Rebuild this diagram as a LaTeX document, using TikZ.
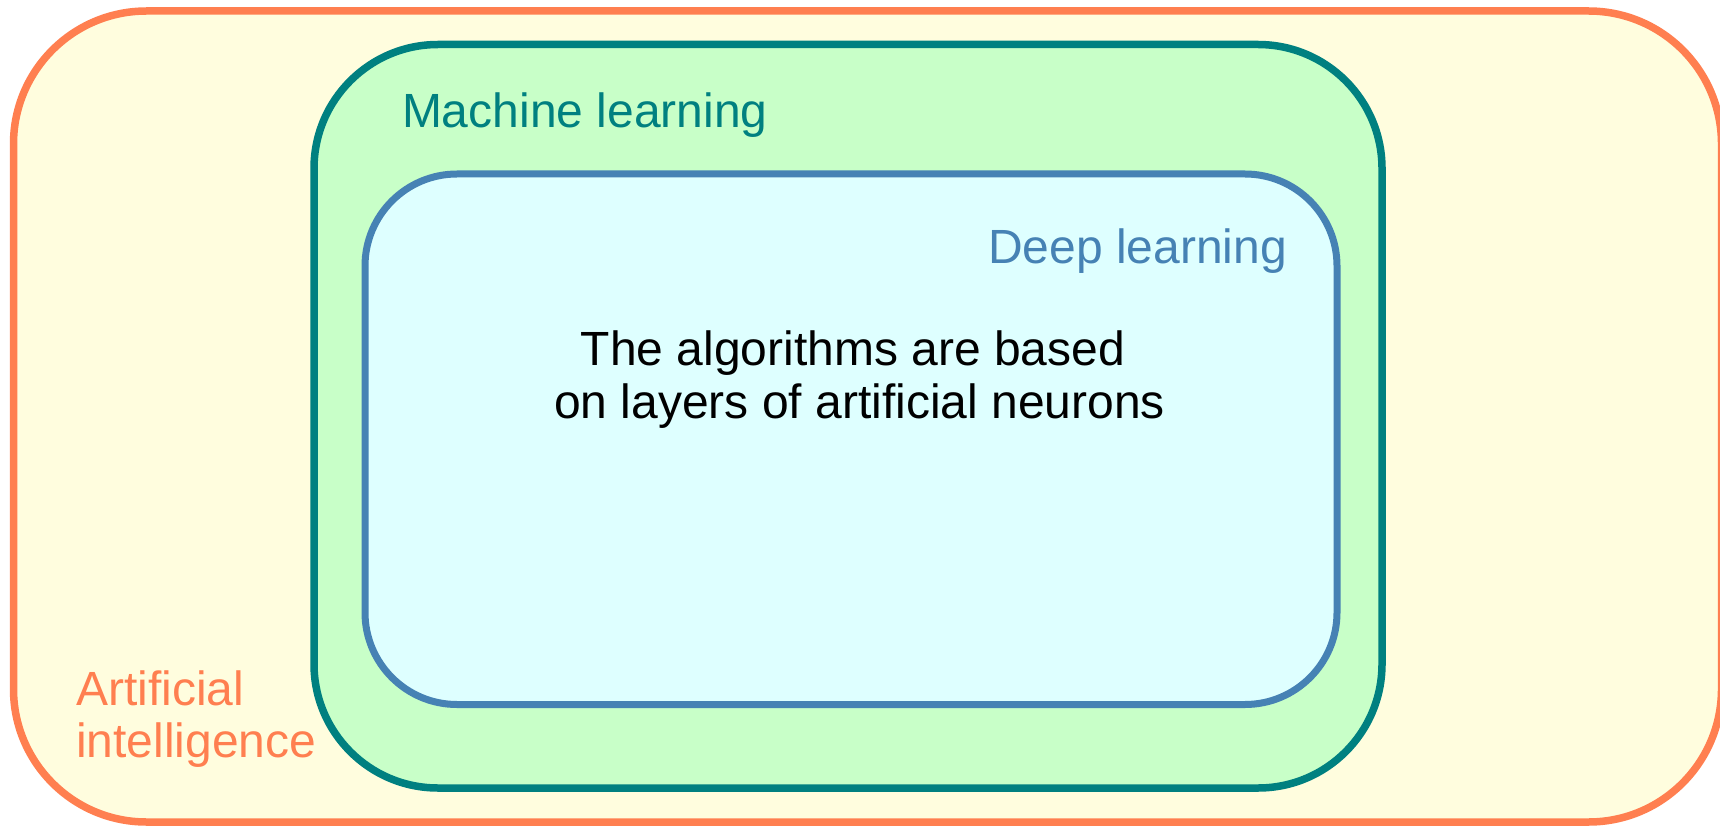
\documentclass[tikz,border=0pt]{standalone}
\usepackage{fontspec}
\setmainfont{Liberation Sans}

\definecolor{aiedge}{HTML}{FF7F50}
\definecolor{aifill}{HTML}{FFFDDE}
\definecolor{mledge}{HTML}{008080}
\definecolor{mlfill}{HTML}{C8FFC8}
\definecolor{dledge}{HTML}{4682B4}
\definecolor{dlfill}{HTML}{DEFFFF}

\tikzset{
  field/.style={rectangle, line width=7.5pt, inner sep=0pt, outer sep=0pt},
  label/.style={inner sep=0pt, outer sep=0pt, font=\fontsize{48}{52}\selectfont},
  bodytext/.style={inner sep=0pt, outer sep=0pt, font=\fontsize{48}{53}\selectfont, text=black}
}

\begin{document}
\begin{tikzpicture}[x=1pt, y=-1pt]
  \useasboundingbox (0,0) rectangle (1720,826);

  % nested fields
  \node[field, draw=aiedge, fill=aifill, rounded corners=133pt,
        minimum width=1708pt, minimum height=811pt] (ai) at (867.5,416.5) {};
  \node[field, draw=mledge, fill=mlfill, rounded corners=124pt,
        minimum width=1068pt, minimum height=743.5pt] (ml) at (848,416.25) {};
  \node[field, draw=dledge, fill=dlfill, rounded corners=92pt, line width=7pt,
        minimum width=972pt, minimum height=530.5pt] (dl) at (851,439.25) {};

  % field names
  \node[label, text=mledge, anchor=base west] (mlname) at (402,128) {Machine learning};
  \node[label, text=dledge, anchor=base east] (dlname) at (1287,263) {Deep learning};
  \node[label, text=aiedge, anchor=base west] (ainame1) at (76,705) {Artificial};
  \node[label, text=aiedge, anchor=base west] (ainame2) at (76,757) {intelligence};

  % description of deep learning
  \node[bodytext, anchor=base] (desc1) at (853,365) {The algorithms are based};
  \node[bodytext, anchor=base] (desc2) at (859.5,418) {on layers of artificial neurons};
\end{tikzpicture}
\end{document}
